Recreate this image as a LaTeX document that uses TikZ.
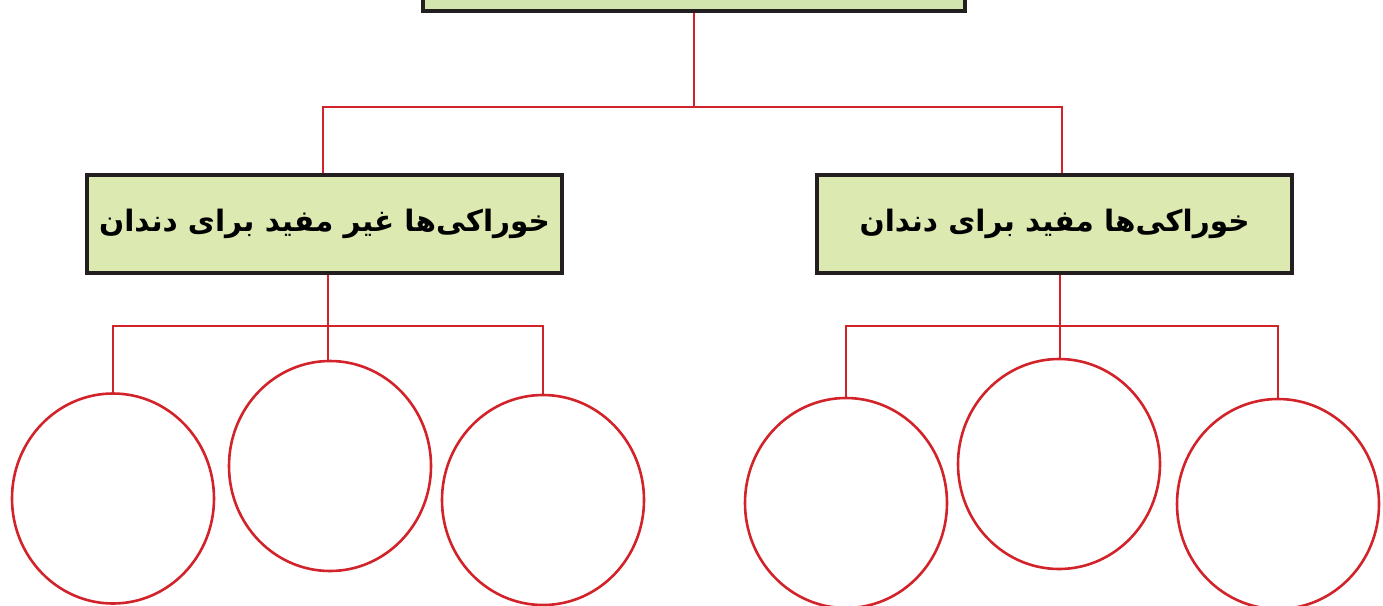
\documentclass[tikz,border=0pt]{standalone}
\usepackage{fontspec}
\usetikzlibrary{shapes.geometric}
\TeXXeTstate=1
\newfontfamily\arabicfont[Script=Arabic]{DejaVu Sans}
\definecolor{boxfill}{HTML}{DCE9B0}
\definecolor{topfill}{HTML}{D2E5AF}
\definecolor{boxborder}{HTML}{231F20}
\definecolor{linered}{HTML}{D2232A}
\begin{document}
\begin{tikzpicture}[x=1pt,y=-1pt,
  box/.style={draw=boxborder, line width=3.4pt, fill=boxfill, minimum width=475pt, minimum height=98pt, inner sep=0pt, font=\arabicfont\bfseries\fontsize{29.5}{34}\selectfont},
  circ/.style={draw=linered, line width=2.6pt, ellipse, minimum width=202pt, minimum height=210pt, inner sep=0pt},
  conn/.style={draw=linered, line width=2.6pt}]
\useasboundingbox (0,0) rectangle (1383,605);
\clip (0,0) rectangle (1383,605);
% top box
\node[box, fill=topfill, minimum width=542pt, minimum height=60pt] (top) at (694,-19) {};
% second-level boxes
\node[box] (lbox) at (324.5,224) {\raisebox{4pt}{\beginR خوراکی‌ها غیر مفید برای دندان\endR}};
\node[box] (rbox) at (1054.5,224) {\raisebox{4pt}{\beginR خوراکی‌ها مفید برای دندان\endR}};
% circles
\node[circ] (l1) at (113,498.5) {};
\node[circ] (l2) at (330,466) {};
\node[circ] (l3) at (543,500) {};
\node[circ] (r1) at (846,503) {};
\node[circ] (r2) at (1059,464) {};
\node[circ] (r3) at (1278,504) {};
% junctions
\coordinate (j0) at (694,107);
\coordinate (jl) at (328,326);
\coordinate (jr) at (1060,326);
% connectors
\draw[conn] (top.south -| j0) -- (j0);
\draw[conn] ([xshift=-1.5pt]lbox.north) |- (j0) -| ([xshift=7.5pt]rbox.north);
\draw[conn] (lbox.south -| jl) -- (l2.north -| jl);
\draw[conn] (l1.north) |- (jl) -| (l3.north);
\draw[conn] (rbox.south -| jr) -- (r2.north -| jr);
\draw[conn] (r1.north) |- (jr) -| (r3.north);
\end{tikzpicture}
\end{document}
